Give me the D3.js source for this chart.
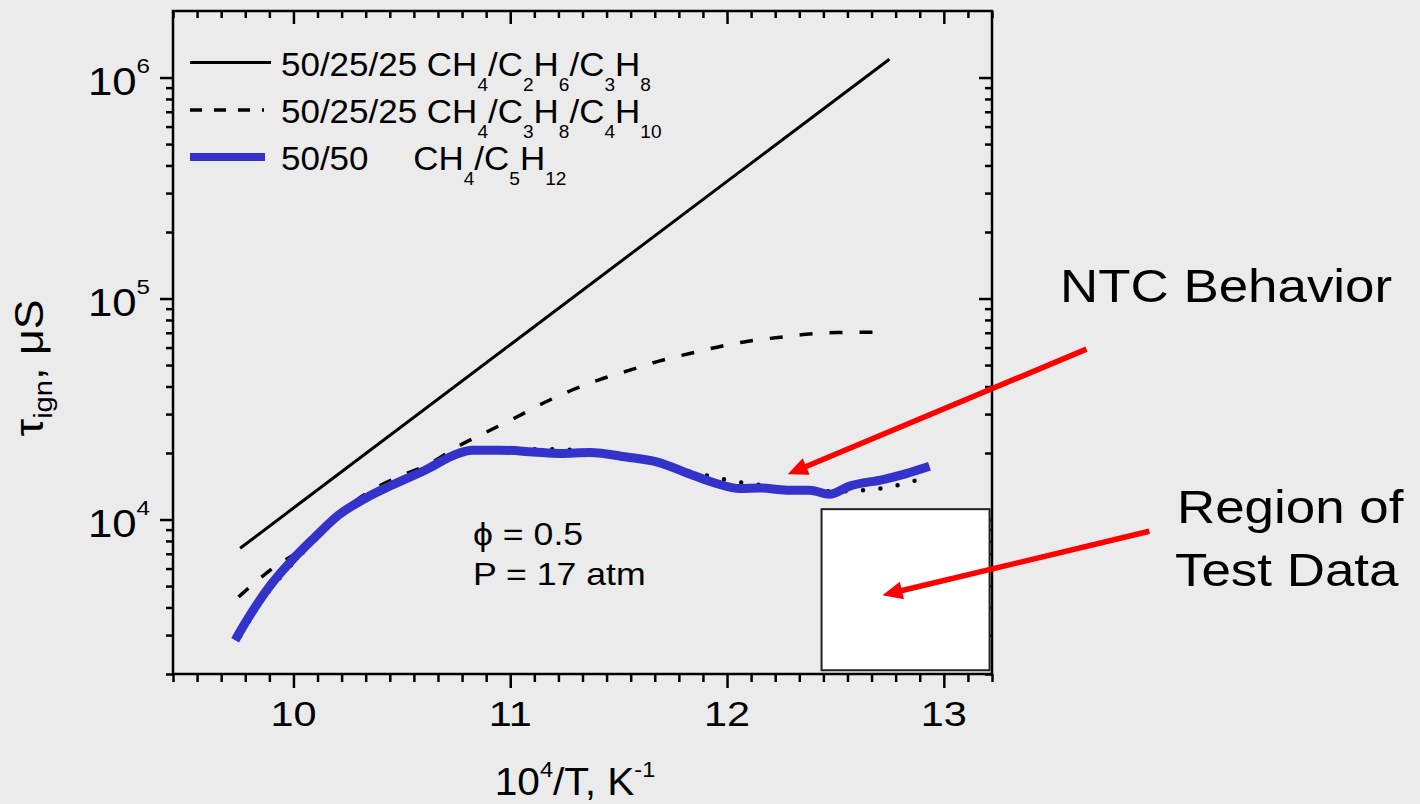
<!DOCTYPE html>
<html>
<head>
  <meta charset="utf-8">
  <title>Ignition delay vs 1/T</title>
  <script src="https://d3js.org/d3.v7.min.js"></script>
  <style>
    body { margin: 0; background: #ebebeb; }
    text { font-family: "Liberation Sans", Arial, sans-serif; fill: #000; }
    .tick line { stroke: #000; stroke-width: 2.5; }
  </style>
</head>
<body>
  <div id="chart"></div>

  <script>
    // ---- data ----
    // 50/25/25 CH4/C2H6/C3H8 (solid)
    const solidX = [9.754, 10.0, 11.0, 12.0, 12.749];
    const solidY = [7410, 11270, 61800, 338800, 1210000];

    // 50/25/25 CH4/C3H8/C4H10 (dashed)
    const dashX = [9.747, 9.893, 10.039, 10.169, 10.330, 10.492, 10.630, 10.768, 10.891, 11.030, 11.151,
                   11.283, 11.413, 11.552, 11.690, 11.828, 11.959, 12.097, 12.235, 12.366, 12.504, 12.673];
    const dashY = [4467, 5900, 7390, 9720, 13010, 15710, 17920, 21670, 24890, 29110, 33580,
                   38460, 42970, 47400, 52240, 56370, 60390, 64080, 66630, 68900, 70200, 70400];

    // dotted curve (mostly hidden under the blue one)
    const dotX = [9.754, 9.856, 9.985, 10.100, 10.207, 10.330, 10.453, 10.607, 10.760, 10.890, 11.180, 11.270,
                  11.536, 11.675, 11.843, 11.924, 12.005, 12.086, 12.166, 12.381, 12.578, 12.658, 12.739, 12.820, 12.900];
    const dotY = [2966, 4313, 6150, 8100, 10200, 12300, 14200, 16600, 19700, 20700, 20800, 20700,
                  19200, 18300, 16320, 15710, 15060, 14590, 14290, 13430, 13430, 13670, 13960, 14590, 15280];

    // 50/50 CH4/C5H12 (blue)
    const blueX = [9.731, 9.777, 9.839, 9.900, 9.993, 10.100, 10.207, 10.330, 10.453, 10.607, 10.760, 10.822,
                   10.953, 11.105, 11.229, 11.367, 11.536, 11.675, 11.843, 11.951, 12.059, 12.151, 12.274,
                   12.381, 12.473, 12.565, 12.719, 12.827, 12.934];
    const blueY = [2844, 3396, 4236, 5129, 6546, 8337, 10450, 12450, 14290, 16720, 19900, 20600,
                   20600, 20230, 19900, 20100, 19190, 18240, 15850, 14550, 13800, 13900, 13580,
                   13580, 13010, 14160, 15170, 16140, 17420];

    const xTicks = [10, 11, 12, 13];
    const xTickLabels = ["10", "11", "12", "13"];
    const yTickExps = [4, 5, 6];

    // test data region and arrows, in data units
    const testRegion = { x0: 12.436, x1: 13.211, y0: 2080, y1: 11140 };
    const arrows = [
      { from: [13.658, 59020], to: [12.280, 16030] },
      { from: [13.948, 8851], to: [12.717, 4545] }
    ];

    // ---- layout ----
    const W = 1420, H = 804;
    const m = { left: 173, right: 992, top: 11, bottom: 674 };
    const SX = 1.15;   // the original picture is stretched sideways

    const svg = d3.select("#chart").append("svg")
      .attr("width", W).attr("height", H);

    svg.append("rect").attr("width", W).attr("height", H).attr("fill", "#ebebeb");

    const x = d3.scaleLinear().domain([10 - 5 / 9, 13 + 2 / 9]).range([m.left, m.right]);
    const y = d3.scaleLog().domain([2000, 2e6]).range([m.bottom, m.top]);

    // text with sub/superscripts, stretched horizontally
    function richText(px, py, size, parts, anchor, sx, extra) {
      const g = svg.append("g")
        .attr("transform", `translate(${px},${py})` + (extra || ` scale(${sx || SX},1)`));
      const t = g.append("text").attr("font-size", size).attr("text-anchor", anchor || "start");
      let off = 0;
      parts.forEach(p => {
        const target = p.shift || 0;
        t.append("tspan")
          .attr("font-size", p.size || size)
          .attr("dy", target - off)
          .text(p.t);
        off = target;
      });
      return g;
    }

    // ---- axes ----
    const xMinor = d3.range(0, 35).map(i => 10 - 5 / 9 + i / 9).filter(v => !xTicks.some(t => Math.abs(t - v) < 1e-6));
    const yMajor = yTickExps.map(e => Math.pow(10, e));
    const yMinor = [];
    [3, 4, 5, 6].forEach(e => d3.range(2, 10).forEach(k => {
      const v = k * Math.pow(10, e - 1);
      if (v >= 2000 && v <= 2e6) yMinor.push(v);
    }));

    function drawAxis(gen, tx, ty) {
      const g = svg.append("g").attr("transform", `translate(${tx},${ty})`).call(gen);
      g.select(".domain").remove();
      return g;
    }

    drawAxis(d3.axisBottom(x).tickValues(xTicks).tickSize(14).tickFormat(""), 0, m.bottom);
    drawAxis(d3.axisBottom(x).tickValues(xMinor).tickSize(8).tickFormat(""), 0, m.bottom);
    drawAxis(d3.axisTop(x).tickValues(xTicks).tickSize(-13).tickFormat(""), 0, m.top);
    drawAxis(d3.axisTop(x).tickValues(xMinor).tickSize(-7).tickFormat(""), 0, m.top);
    drawAxis(d3.axisLeft(y).tickValues(yMajor).tickSize(13).tickFormat(""), m.left, 0);
    drawAxis(d3.axisLeft(y).tickValues(yMinor).tickSize(7).tickFormat(""), m.left, 0);
    drawAxis(d3.axisRight(y).tickValues(yMajor).tickSize(-13).tickFormat(""), m.right, 0);
    drawAxis(d3.axisRight(y).tickValues(yMinor).tickSize(-7).tickFormat(""), m.right, 0);

    // tick labels
    xTicks.forEach((v, i) => richText(x(v), 726, 36, [{ t: xTickLabels[i] }], "middle"));
    yTickExps.forEach(e => richText(150, y(Math.pow(10, e)) + 17, 38,
      [{ t: "10" }, { t: String(e), size: 21, shift: -22 }], "end"));

    // axis titles
    richText(575, 795, 38, [
      { t: "10" }, { t: "4", size: 22, shift: -18 }, { t: "/T, K" }, { t: "-1", size: 22, shift: -18 }
    ], "middle", 1.07);
    richText(43, 368, 40, [
      { t: "τ" }, { t: "ign", size: 26, shift: 9 }, { t: ", μS" }
    ], "middle", null, " rotate(-90) scale(1.12,1)");

    // ---- curves ----
    const lineLin = d3.line().x(d => x(d[0])).y(d => y(d[1]));
    const lineSmooth = d3.line().x(d => x(d[0])).y(d => y(d[1])).curve(d3.curveMonotoneX);
    const zip = (a, b) => a.map((v, i) => [v, b[i]]);

    svg.append("path").datum(zip(solidX, solidY))
      .attr("d", lineLin).attr("fill", "none").attr("stroke", "#000").attr("stroke-width", 3);

    svg.append("path").datum(zip(dashX, dashY))
      .attr("d", lineSmooth).attr("fill", "none").attr("stroke", "#000").attr("stroke-width", 3.5)
      .attr("stroke-dasharray", "13 17");

    svg.append("path").datum(zip(dotX, dotY))
      .attr("d", lineSmooth).attr("fill", "none").attr("stroke", "#000").attr("stroke-width", 4.5)
      .attr("stroke-linecap", "round").attr("stroke-dasharray", "0 17.5");

    svg.append("path").datum(zip(blueX, blueY))
      .attr("d", lineSmooth).attr("fill", "none").attr("stroke", "#3333cc").attr("stroke-width", 9);

    // frame
    svg.append("rect").attr("x", m.left).attr("y", m.top)
      .attr("width", m.right - m.left).attr("height", m.bottom - m.top)
      .attr("fill", "none").attr("stroke", "#000").attr("stroke-width", 2.5);

    // test region box
    svg.append("rect")
      .attr("x", x(testRegion.x0)).attr("y", y(testRegion.y1))
      .attr("width", x(testRegion.x1) - x(testRegion.x0))
      .attr("height", y(testRegion.y0) - y(testRegion.y1))
      .attr("fill", "#fff").attr("stroke", "#222").attr("stroke-width", 2);

    // ---- legend ----
    const sub = (t) => ({ t: t, size: 18, shift: 15 });
    const leg = [
      { y: 62.5, dash: null, color: "#000", w: 3, x1: 271,
        parts: [{ t: "50/25/25 CH" }, sub("4"), { t: "/C" }, sub("2"), { t: "H" }, sub("6"),
                { t: "/C" }, sub("3"), { t: "H" }, sub("8")] },
      { y: 110, dash: "12 12", color: "#000", w: 3.5, x1: 264,
        parts: [{ t: "50/25/25 CH" }, sub("4"), { t: "/C" }, sub("3"), { t: "H" }, sub("8"),
                { t: "/C" }, sub("4"), { t: "H" }, sub("10")] },
      { y: 157, dash: null, color: "#3333cc", w: 8, x1: 265,
        parts: [{ t: "50/50\u2003 CH" }, sub("4"), { t: "/C" }, sub("5"), { t: "H" }, sub("12")] }
    ];
    leg.forEach(l => {
      svg.append("line").attr("x1", 190).attr("x2", l.x1).attr("y1", l.y).attr("y2", l.y)
        .attr("stroke", l.color).attr("stroke-width", l.w)
        .attr("stroke-dasharray", l.dash);
      richText(281, l.y + 13, 33, l.parts, "start", 1.06);
    });

    // ---- annotations ----
    richText(473, 545, 31, [{ t: "ϕ = 0.5" }]);
    richText(473, 585, 31, [{ t: "P = 17 atm" }]);
    richText(1060, 302, 46, [{ t: "NTC Behavior" }]);
    richText(1177, 523, 46, [{ t: "Region of" }]);
    richText(1175, 586, 46, [{ t: "Test Data" }]);

    arrows.forEach(a => {
      const x0 = x(a.from[0]), y0 = y(a.from[1]);
      const x1 = x(a.to[0]), y1 = y(a.to[1]);
      const ang = Math.atan2(y1 - y0, x1 - x0);
      const len = 20, hw = 9;
      const bx = x1 - len * Math.cos(ang), by = y1 - len * Math.sin(ang);
      svg.append("line").attr("x1", x0).attr("y1", y0)
        .attr("x2", bx + 2 * Math.cos(ang)).attr("y2", by + 2 * Math.sin(ang))
        .attr("stroke", "#ff0000").attr("stroke-width", 5.5);
      const px = -Math.sin(ang) * hw, py = Math.cos(ang) * hw;
      svg.append("polygon")
        .attr("points", [[x1, y1], [bx + px, by + py], [bx - px, by - py]].map(p => p.join(",")).join(" "))
        .attr("fill", "#ff0000");
    });
  </script>
</body>
</html>
